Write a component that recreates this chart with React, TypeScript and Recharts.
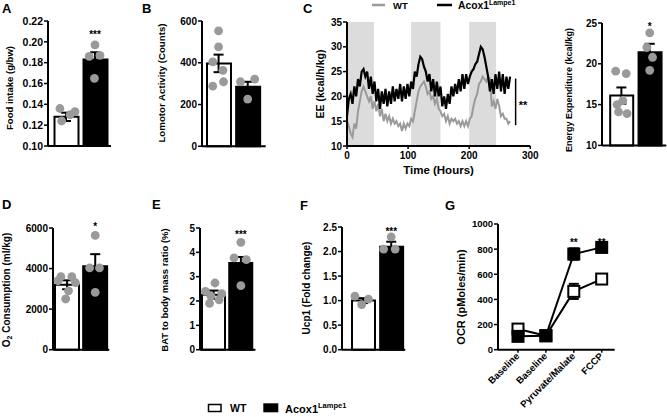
import React from 'react';
import {
  ComposedChart, LineChart, Line, Bar, Cell, Scatter, XAxis, YAxis, ErrorBar,
  ReferenceArea, ReferenceLine, ReferenceDot, LabelList,
} from 'recharts';

const FONT = '"Liberation Sans", Arial, Helvetica, sans-serif';
const GRAY = '#9a9a9a';
const SHADE = '#dcdcdc';
const AX = { stroke: '#000', strokeWidth: 2 };
const TL = { stroke: '#000', strokeWidth: 1.5 };

// A - food intake
const foodMean = [0.128, 0.183];
const foodSem = [0.004, 0.007];
const foodWT = [0.136, 0.133, 0.124, 0.13];
const foodKO = [0.197, 0.187, 0.186, 0.165];
const foodJitWT = [-0.21, 0.31, -0.15, 0.14];
const foodJitKO = [0, 0.17, -0.2, -0.02];

// B - locomotor activity
const locoMean = [397, 285];
const locoSem = [42, 24];
const locoWT = [553, 476, 404, 364, 288, 309];
const locoKO = [309, 322, 226];
const locoJitWT = [0, 0, -0.2, 0.15, -0.2, 0.17];
const locoJitKO = [-0.25, 0.24, 0];

// C - EE time course
const eeHours = [
  0, 3, 6, 9, 12, 15, 18, 21, 24, 27, 30, 33, 36, 39, 42, 45, 48, 51, 54, 57,
  60, 63, 66, 69, 72, 75, 78, 81, 84, 87, 90, 93, 96, 99, 102, 105, 108, 111, 114, 117,
  120, 123, 126, 129, 132, 135, 138, 141, 144, 147, 150, 153, 156, 159, 162, 165, 168, 171, 174, 177,
  180, 183, 186, 189, 192, 195, 198, 201, 204, 207, 210, 213, 216, 219, 222, 225, 228, 231, 234, 237,
  240, 243, 246, 249, 252, 255, 258, 261, 264, 267,
];
const eeKOLine = [
  16, 19.5, 20.5, 18.5, 22, 20, 23.5, 22, 25, 25.5,
  24, 25, 21.5, 24, 20.5, 23, 19, 21.5, 17.5, 21,
  18.5, 21.5, 18, 21, 18.5, 22, 19, 21.5, 19.5, 22.5,
  19, 22, 19.5, 22.5, 20, 23, 21.5, 25, 24, 26.5,
  28, 27.5, 26, 25, 23, 24.5, 21, 23.5, 20, 23,
  20, 22, 18, 20, 17.5, 20.5, 18.5, 22, 20, 22.5,
  20.5, 23.5, 21, 24.5, 21.5, 24.5, 22.5, 24, 25, 25.5,
  26.5, 27, 28.5, 30, 29.5, 28, 26, 24, 21, 23.5,
  20.5, 24.5, 21.5, 25, 21, 24.5, 20.5, 24, 21.5, 24,
];
const eeWTLine = [
  15, 14, 12.5, 11.8, 14.5, 13.5, 17, 19, 21, 22,
  21, 20, 19, 20, 17.5, 19, 17, 18.5, 16, 17.5,
  15, 16.5, 15, 16, 14.5, 15.5, 14.5, 15, 14, 14.5,
  13, 14.5, 13.5, 14.5, 14, 15.5, 15, 17, 19, 21,
  22, 22.5, 23, 22, 20.5, 21, 19.5, 20, 18.5, 19.5,
  17.5, 17, 16, 16.5, 15, 16, 14.5, 15.5, 15, 15.5,
  14.5, 15, 14, 15, 14, 15, 14, 15.5, 16, 18,
  19.5, 20.5, 22.5, 23, 24, 23.5, 23, 24, 23.5, 18,
  19, 17.5, 19.5, 18, 16, 16.5, 15.5, 15.5, 14.5, 15,
];
const darkPhases = [[0, 44], [105, 153], [200, 244]];

// C - energy expenditure bars
const eeMean = [16.1, 21.4];
const eeSem = [1.0, 1.05];
const eeWT = [19.1, 18.8, 15.5, 15.0, 14.1, 13.9];
const eeKO = [23.8, 22.0, 20.8, 19.2];
const eeJitWT = [-0.2, 0.17, 0.05, -0.15, -0.1, 0.2];
const eeJitKO = [0, -0.1, 0.1, 0];

// D - O2 consumption
const o2Mean = [3200, 4110];
const o2Sem = [220, 600];
const o2WT = [3600, 3600, 3400, 3300, 2900, 2500];
const o2KO = [5640, 4030, 4030, 2830];
const o2JitWT = [-0.22, 0.17, -0.32, 0.3, 0.05, -0.05];
const o2JitKO = [0, -0.2, 0.15, 0];

// E - BAT ratio
const batMean = [2.26, 3.56];
const batSem = [0.17, 0.25];
const batWT = [2.74, 2.4, 2.3, 2.2, 2.05, 1.9];
const batKO = [4.41, 3.77, 3.7, 2.63];
const batJitWT = [0.05, -0.3, 0.3, -0.1, 0.2, -0.15];
const batJitKO = [0, -0.25, 0.2, 0];

// F - Ucp1
const ucpMean = [1.0, 2.1];
const ucpSem = [0.05, 0.1];
const ucpWT = [1.09, 1.03, 0.92];
const ucpKO = [2.3, 2.05, 2.05];
const ucpJitWT = [-0.29, 0.19, -0.05];
const ucpJitKO = [0, -0.27, 0.14];

// G - OCR
const ocrSteps = ['Baseline', 'Baseline', 'Pyruvate/Malate', 'FCCP'];
const ocrWT = [164, 111, 464, 562];
const ocrWTErr = [15, 8, 60, 20];
const ocrKO = [106, 111, 761, 814];
const ocrKOErr = [10, 8, 45, 40];
const ocrSig = ['', '', '**', '**'];
const OCR_SIG_LEVEL = 867;

const dotShape = (p: any) => <circle cx={p.cx} cy={p.cy} r={4.4} fill={GRAY} />;
const noShape = () => <g />;

type BarPanelProps = {
  box: [number, number, number, number];
  domain: [number, number];
  ticks: number[];
  digits: number;
  tickFont: number;
  means: number[];
  sems: number[];
  dots: number[][];
  jitter: number[][];
  pad: [number, number];
  barSize: number;
  sig?: string;
  sigAt?: number;
};

function BarPanel(p: BarPanelProps) {
  const YW = 40, TM = 8, RM = 4, BM = 4, XH = 1;
  const [l, r, t, b] = p.box;
  const w = r - l + YW + RM;
  const h = b - t + TM + BM + XH;
  const bars = p.means.map((m, i) => ({ g: i === 0 ? 'WT' : 'Acox1', y: m }));
  const errs = p.means.map((m, i) => ({ x: i + 0.5, y: m, e: p.sems[i] }));
  const pts = p.dots.flatMap((vals, i) => vals.map((v, k) => ({ x: i + 0.5 + p.jitter[i][k], y: v })));
  const padding = { left: p.pad[0], right: p.pad[1] };
  return (
    <div style={{ position: 'absolute', left: l - YW, top: t - TM }}>
      <ComposedChart width={w} height={h} data={bars} margin={{ top: TM, right: RM, bottom: BM, left: 0 }}>
        <XAxis xAxisId="c" dataKey="g" type="category" height={XH} tick={false} tickLine={false} axisLine={AX} padding={padding} />
        <XAxis xAxisId="n" dataKey="x" type="number" domain={[0, 2]} hide padding={padding} />
        <YAxis
          domain={p.domain}
          ticks={p.ticks}
          interval={0}
          width={YW}
          tickSize={4}
          tickMargin={1}
          axisLine={AX}
          tickLine={TL}
          tick={{ fontSize: p.tickFont, fontWeight: 700, fill: '#000', fontFamily: FONT }}
          tickFormatter={(v: number) => v.toFixed(p.digits)}
        />
        <Bar xAxisId="c" dataKey="y" barSize={p.barSize} stroke="#000" strokeWidth={2} isAnimationActive={false}>
          {bars.map((_, i) => <Cell key={i} fill={i === 0 ? '#fff' : '#000'} />)}
        </Bar>
        <Scatter xAxisId="n" dataKey="y" data={pts} shape={dotShape} isAnimationActive={false} />
        <Scatter xAxisId="n" dataKey="y" data={errs} shape={noShape} isAnimationActive={false}>
          <ErrorBar dataKey="e" direction="y" width={5} strokeWidth={2} stroke="#000" />
        </Scatter>
        {p.sig && (
          <ReferenceDot
            xAxisId="n"
            x={1.5}
            y={p.sigAt}
            ifOverflow="visible"
            shape={(d: any) => (
              <text x={d.cx} y={d.cy + 5.5} textAnchor="middle" fontSize={10} fontWeight={700} fill="#000" fontFamily={FONT}>{p.sig}</text>
            )}
          />
        )}
      </ComposedChart>
    </div>
  );
}

function TimeCourse() {
  const YW = 24, TM = 6, RM = 10, XH = 16;
  const [l, r, t, b] = [346.7, 530, 21.7, 145.7];
  const data = eeHours.map((h, i) => ({ t: h, wt: eeWTLine[i], ko: eeKOLine[i] }));
  return (
    <div style={{ position: 'absolute', left: l - YW, top: t - TM }}>
      <LineChart width={r - l + YW + RM} height={b - t + TM + XH} data={data} margin={{ top: TM, right: RM, bottom: 0, left: 0 }}>
        {darkPhases.map(([a, z], i) => (
          <ReferenceArea key={i} x1={a} x2={z} y1={10} y2={35} fill={SHADE} fillOpacity={1} stroke="none" />
        ))}
        <XAxis
          dataKey="t"
          type="number"
          domain={[0, 300]}
          ticks={[0, 100, 200, 300]}
          interval={0}
          height={XH}
          tickSize={3}
          tickMargin={3}
          axisLine={AX}
          tickLine={TL}
          tick={{ fontSize: 10, fontWeight: 700, fill: '#000', fontFamily: FONT }}
        />
        <YAxis
          domain={[10, 35]}
          ticks={[10, 15, 20, 25, 30, 35]}
          interval={0}
          width={YW}
          tickSize={4}
          tickMargin={1}
          axisLine={AX}
          tickLine={TL}
          tick={{ fontSize: 10, fontWeight: 700, fill: '#000', fontFamily: FONT }}
        />
        <Line dataKey="wt" type="linear" stroke={GRAY} strokeWidth={2} dot={false} isAnimationActive={false} />
        <Line dataKey="ko" type="linear" stroke="#000" strokeWidth={2.2} dot={false} isAnimationActive={false} />
        <ReferenceLine segment={[{ x: 276, y: 14.2 }, { x: 276, y: 23.6 }]} stroke="#000" strokeWidth={1.5} ifOverflow="visible" />
        <ReferenceDot
          x={281}
          y={18.6}
          ifOverflow="visible"
          shape={(d: any) => (
            <text x={d.cx} y={d.cy + 5.5} fontSize={11} fontWeight={700} fill="#000" fontFamily={FONT}>**</text>
          )}
        />
      </LineChart>
    </div>
  );
}

const SlantTick = (props: any) => {
  const { x, y, payload } = props;
  const ax = x + 2;
  const ay = y + 2;
  return (
    <text x={ax} y={ay} textAnchor="end" transform={`rotate(-45 ${ax} ${ay})`} fontSize={9.6} fontWeight={700} fill="#000" fontFamily={FONT}>
      {ocrSteps[payload.value]}
    </text>
  );
};

const whiteSquare = (p: any) => (
  <rect key={`w${p.index}`} x={p.cx - 5.5} y={p.cy - 5.5} width={11} height={11} fill="#fff" stroke="#000" strokeWidth={2} />
);
const blackSquare = (p: any) => (
  <rect key={`k${p.index}`} x={p.cx - 6.5} y={p.cy - 6.5} width={13} height={13} fill="#000" />
);

function OcrPanel() {
  const YW = 36, TM = 8, RM = 6, XH = 64;
  const [l, r, t, b] = [498.3, 615, 224.3, 350];
  const data = ocrSteps.map((s, i) => ({
    i, wt: ocrWT[i], wtE: ocrWTErr[i], ko: ocrKO[i], koE: ocrKOErr[i],
    sig: ocrSig[i], sigLvl: ocrSig[i] ? OCR_SIG_LEVEL : null,
  }));
  return (
    <div style={{ position: 'absolute', left: l - YW, top: t - TM }}>
      <LineChart width={r - l + YW + RM} height={b - t + TM + XH} data={data} margin={{ top: TM, right: RM, bottom: 0, left: 0 }}>
        <XAxis
          dataKey="i"
          type="number"
          domain={[0, 3]}
          ticks={[0, 1, 2, 3]}
          padding={{ left: 20, right: 13 }}
          interval={0}
          height={XH}
          tickSize={3}
          tickMargin={2}
          axisLine={AX}
          tickLine={TL}
          tick={<SlantTick />}
        />
        <YAxis
          domain={[0, 1000]}
          ticks={[0, 200, 400, 600, 800, 1000]}
          interval={0}
          width={YW}
          tickSize={4}
          tickMargin={1}
          axisLine={AX}
          tickLine={TL}
          tick={{ fontSize: 9.5, fontWeight: 700, fill: '#000', fontFamily: FONT }}
        />
        <Line dataKey="wt" type="linear" stroke="#000" strokeWidth={2} dot={whiteSquare} isAnimationActive={false}>
          <ErrorBar dataKey="wtE" direction="y" width={5} strokeWidth={2} stroke="#000" />
        </Line>
        <Line dataKey="ko" type="linear" stroke="#000" strokeWidth={2} dot={blackSquare} isAnimationActive={false}>
          <ErrorBar dataKey="koE" direction="y" width={5} strokeWidth={2} stroke="#000" />
        </Line>
        <Line dataKey="sigLvl" stroke="none" dot={false} isAnimationActive={false}>
          <LabelList
            dataKey="sig"
            content={(d: any) =>
              d.value ? (
                <text key={`s${d.index}`} x={d.x} y={d.y + 5.5} textAnchor="middle" fontSize={10} fontWeight={700} fill="#000" fontFamily={FONT}>{d.value}</text>
              ) : null
            }
          />
        </Line>
      </LineChart>
    </div>
  );
}

function VLabel({ x, y, size, children }: { x: number; y: number; size: number; children: React.ReactNode }) {
  return (
    <text x={x} y={y} transform={`rotate(-90 ${x} ${y})`} textAnchor="middle" fontSize={size} fontWeight={700} fill="#000">
      {children}
    </text>
  );
}

function Overlay() {
  const letter = (s: string, x: number, y: number) => (
    <text x={x} y={y} fontSize={13} fontWeight={700} fill="#000">{s}</text>
  );
  return (
    <svg width={667} height={417} style={{ position: 'absolute', left: 0, top: 0, pointerEvents: 'none', fontFamily: FONT }}>
      {letter('A', 2, 13)}
      {letter('B', 142, 13)}
      {letter('C', 303, 13)}
      {letter('D', 2, 209)}
      {letter('E', 152, 209)}
      {letter('F', 300, 210)}
      {letter('G', 445, 210)}

      <VLabel x={12.5} y={88} size={9.5}>Food intake (g/bw)</VLabel>
      <VLabel x={165} y={83} size={9.7}>Lomotor Activity (Counts)</VLabel>
      <VLabel x={324} y={84} size={10.5}>EE (kcal/h/kg)</VLabel>
      <VLabel x={571.5} y={90} size={9}>Energy Expenditure (kcal/kg)</VLabel>
      <VLabel x={9.5} y={290} size={10}>
        O<tspan dy={2} fontSize={7}>2</tspan><tspan dy={-2}> Consumption (ml/kg)</tspan>
      </VLabel>
      <VLabel x={168} y={290} size={9.5}>BAT to body mass ratio  (%)</VLabel>
      <VLabel x={310} y={288} size={10}>Ucp1 (Fold change)</VLabel>
      <VLabel x={465} y={297} size={11}>OCR (pMoles/min)</VLabel>

      <text x={438.5} y={174} textAnchor="middle" fontSize={11.5} fontWeight={700}>Time (Hours)</text>

      <line x1={372} y1={5} x2={385} y2={5} stroke={GRAY} strokeWidth={2.5} />
      <text x={393} y={8.8} fontSize={9.5} fontWeight={700}>WT</text>
      <line x1={437} y1={5} x2={452} y2={5} stroke="#000" strokeWidth={2.5} />
      <text x={458} y={9} fontSize={10.3} fontWeight={700}>
        Acox1<tspan dy={-4.5} fontSize={7}>Lampe1</tspan>
      </text>

      <rect x={208.5} y={404.5} width={12.5} height={7} fill="#fff" stroke="#000" strokeWidth={1.5} />
      <text x={230} y={412} fontSize={10.5} fontWeight={700}>WT</text>
      <rect x={263.3} y={403.3} width={15} height={9} fill="#000" />
      <text x={285} y={412.5} fontSize={11} fontWeight={700}>
        Acox1<tspan dy={-5} fontSize={7.5}>Lampe1</tspan>
      </text>
    </svg>
  );
}

export default function App() {
  return (
    <div style={{ position: 'absolute', left: 0, top: 0, width: 667, height: 417, background: '#fff', overflow: 'hidden', fontFamily: FONT }}>
      <BarPanel
        box={[48, 111, 21, 146]} domain={[0.1, 0.22]} ticks={[0.1, 0.12, 0.14, 0.16, 0.18, 0.2, 0.22]} digits={2} tickFont={10.5}
        means={foodMean} sems={foodSem} dots={[foodWT, foodKO]} jitter={[foodJitWT, foodJitKO]}
        pad={[3.5, 1.5]} barSize={24} sig="***" sigAt={0.2085}
      />
      <BarPanel
        box={[202.3, 266, 20.7, 146]} domain={[0, 600]} ticks={[0, 200, 400, 600]} digits={0} tickFont={10}
        means={locoMean} sems={locoSem} dots={[locoWT, locoKO]} jitter={[locoJitWT, locoJitKO]}
        pad={[2, 3.4]} barSize={24}
      />
      <TimeCourse />
      <BarPanel
        box={[601.7, 666, 23.3, 145.7]} domain={[10, 25]} ticks={[10, 15, 20, 25]} digits={0} tickFont={10}
        means={eeMean} sems={eeSem} dots={[eeWT, eeKO]} jitter={[eeJitWT, eeJitKO]}
        pad={[5.2, 2.4]} barSize={23} sig="*" sigAt={24.8}
      />
      <BarPanel
        box={[52.7, 109, 228.3, 350]} domain={[0, 6000]} ticks={[0, 2000, 4000, 6000]} digits={0} tickFont={10}
        means={o2Mean} sems={o2Sem} dots={[o2WT, o2KO]} jitter={[o2JitWT, o2JitKO]}
        pad={[0, 0]} barSize={24} sig="*" sigAt={6160}
      />
      <BarPanel
        box={[199.5, 255, 228.3, 350]} domain={[0, 5]} ticks={[0, 1, 2, 3, 4, 5]} digits={0} tickFont={10}
        means={batMean} sems={batSem} dots={[batWT, batKO]} jitter={[batJitWT, batJitKO]}
        pad={[0, 1]} barSize={23} sig="***" sigAt={4.8}
      />
      <BarPanel
        box={[341.7, 405, 227.3, 350]} domain={[0, 2.5]} ticks={[0, 0.5, 1, 1.5, 2, 2.5]} digits={1} tickFont={10}
        means={ucpMean} sems={ucpSem} dots={[ucpWT, ucpKO]} jitter={[ucpJitWT, ucpJitKO]}
        pad={[7, 0]} barSize={23} sig="***" sigAt={2.45}
      />
      <OcrPanel />
      <Overlay />
    </div>
  );
}
